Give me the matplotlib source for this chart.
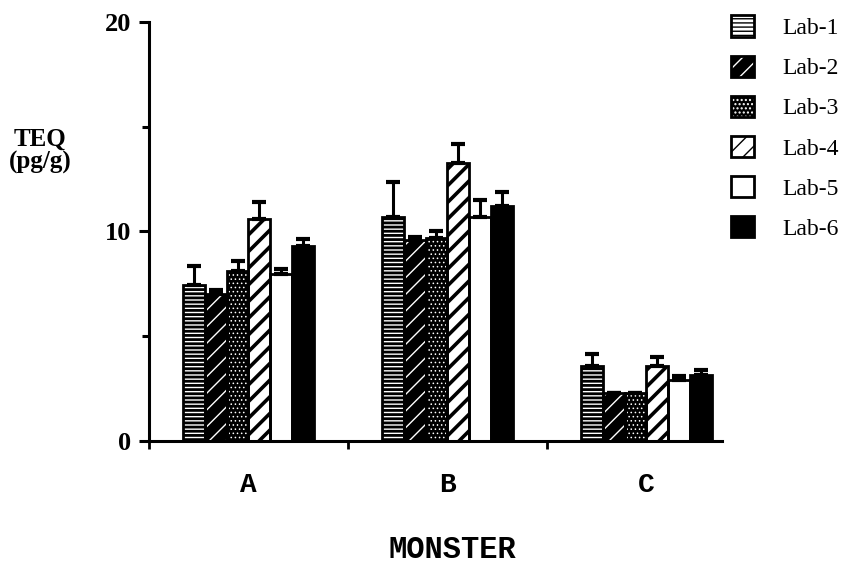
import matplotlib
matplotlib.use("Agg")
import matplotlib.pyplot as plt
import numpy as np
from matplotlib.legend_handler import HandlerTuple

groups = ["A", "B", "C"]
labs = ["Lab-1", "Lab-2", "Lab-3", "Lab-4", "Lab-5", "Lab-6"]

# TEQ (pg/g) per lab for samples A, B, C and the upper error (SD)
teq = {
    "Lab-1": [7.45, 10.7, 3.6],
    "Lab-2": [7.0, 9.6, 2.3],
    "Lab-3": [8.1, 9.7, 2.3],
    "Lab-4": [10.6, 13.25, 3.6],
    "Lab-5": [7.95, 10.7, 2.9],
    "Lab-6": [9.3, 11.2, 3.15],
}
err = {
    "Lab-1": [0.9, 1.65, 0.55],
    "Lab-2": [0.2, 0.15, 0.0],
    "Lab-3": [0.5, 0.3, 0.0],
    "Lab-4": [0.8, 0.95, 0.4],
    "Lab-5": [0.25, 0.8, 0.2],
    "Lab-6": [0.35, 0.7, 0.25],
}

# fill colour, hatch pattern, hatch colour, hatch line width
styles = {
    "Lab-1": ("white", "----", "black", 2.0),
    "Lab-2": ("black", "//", "white", 1.0),
    "Lab-3": ("black", "....", "white", 0.6),
    "Lab-4": ("white", "//", "black", 2.6),
    "Lab-5": ("white", "", "black", 1.0),
    "Lab-6": ("black", "", "black", 1.0),
}

serif = "Liberation Serif"
mono = "Liberation Mono"

fig = plt.figure(figsize=(8.51, 5.66), dpi=100)
ax = fig.add_axes([149 / 851, 125 / 566, 573 / 851, 419 / 566])

centers = np.arange(len(groups)) + 0.5
width = 0.11
handles = []
for i, lab in enumerate(labs):
    x = centers + (i - 2.5) * width
    face, hatch, hcol, hlw = styles[lab]
    with plt.rc_context({"hatch.linewidth": hlw}):
        b1 = ax.bar(x, teq[lab], width, color=face, edgecolor=hcol,
                    hatch=hatch, linewidth=0, zorder=2)
    for p in b1.patches:
        if hasattr(p, "set_hatch_linewidth"):
            p.set_hatch_linewidth(hlw)
    b2 = ax.bar(x, teq[lab], width, fill=False, edgecolor="black",
                linewidth=2.0, zorder=3)
    ax.errorbar(x, teq[lab], yerr=[np.zeros(3), err[lab]], fmt="none",
                ecolor="black", elinewidth=2.2, capsize=5, capthick=3, zorder=4)
    handles.append((b1.patches[0], b2.patches[0]))

ax.set_xlim(0, 2.88)
ax.set_ylim(0, 20)
ax.spines["top"].set_visible(False)
ax.spines["right"].set_visible(False)
ax.spines["left"].set_linewidth(2.2)
ax.spines["bottom"].set_linewidth(2.2)

ax.set_yticks([0, 10, 20])
ax.set_yticks([5, 15], minor=True)
ax.set_yticklabels(["0", "10", "20"], fontfamily=serif, fontweight="bold",
                   fontsize=19)
ax.tick_params(axis="y", which="major", length=7, width=2.2, pad=6)
ax.tick_params(axis="y", which="minor", length=5, width=2.2)

ax.set_xticks([0, 1, 2])
ax.set_xticklabels([])
ax.tick_params(axis="x", which="major", length=6, width=2.0)
ax.set_xticks(centers, minor=True)
ax.set_xticklabels(groups, minor=True, fontfamily=mono, fontweight="bold",
                   fontsize=20)
ax.tick_params(axis="x", which="minor", length=0, pad=22)

fig.text(40 / 851, 1 - 151 / 566, "TEQ\n(pg/g)", ha="center", va="center",
         fontfamily=serif, fontweight="bold", fontsize=18, linespacing=0.95)
fig.text(452 / 851, 1 - 550 / 566, "MONSTER", ha="center", va="center",
         fontfamily=mono, fontweight="bold", fontsize=22)

fig.legend(handles, labs, handler_map={tuple: HandlerTuple(ndivide=1)},
           loc="upper left", bbox_to_anchor=(722 / 851, 1 - 6 / 566),
           frameon=False, prop={"family": serif, "size": 17},
           handlelength=0.95, handleheight=1.0, labelspacing=0.7,
           handletextpad=1.2, borderaxespad=0)

fig.savefig("out.png", dpi=100)
